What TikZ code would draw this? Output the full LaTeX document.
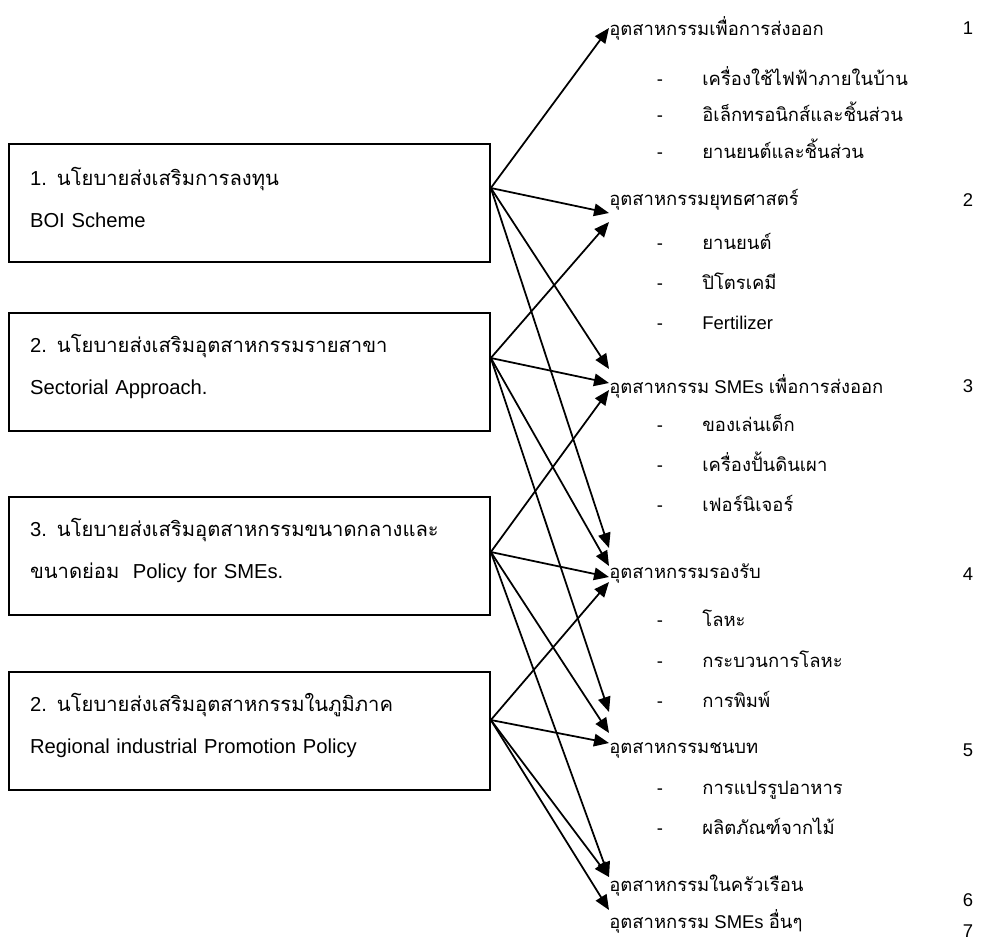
\documentclass[tikz,border=0pt]{standalone}
\usepackage{fontspec}
\setmainfont{Liberation Sans}
\newfontfamily\thaifont[Script=Thai]{Loma}
\newcommand{\thaitext}[1]{{\thaifont #1}}
\usetikzlibrary{arrows.meta,positioning}

\tikzset{
  policy/.style={draw, line width=1pt, minimum width=9.62cm, minimum height=2.36cm,
    text width=8.78cm, inner xsep=0.42cm, align=left,
    font=\fontsize{11.5}{23.8}\selectfont,
    execute at end node={\par\vspace*{6.5pt}}},
  sector/.style={anchor=west, inner sep=0pt, font=\fontsize{10.5}{12}\selectfont},
  item/.style={anchor=base west, inner sep=0pt, font=\fontsize{10.5}{12}\selectfont},
  dashmark/.style={anchor=base, inner sep=0pt, font=\fontsize{10.5}{12}\selectfont},
  rank/.style={inner sep=0pt, font=\fontsize{10.5}{12}\selectfont},
  link/.style={line width=1pt, -{Triangle[length=0.3cm,width=0.25cm]}}
}

\begin{document}
\begin{tikzpicture}[x=0.02cm, y=-0.02cm]
  \useasboundingbox (0,0) rectangle (1001,947);

    %% policy boxes
    \node[policy] (boi) at (249.5,203) {1. \thaitext{นโยบายส่งเสริมการลงทุน}\\BOI Scheme};
    \node[policy] (sector) at (249.5,372) {2. \thaitext{นโยบายส่งเสริมอุตสาหกรรมรายสาขา}\\Sectorial Approach.};
    \node[policy] (smes) at (249.5,556) {3. \thaitext{นโยบายส่งเสริมอุตสาหกรรมขนาดกลางและ}\\\thaitext{ขนาดย่อม}\ \ Policy for SMEs.};
    \node[policy] (region) at (249.5,731) {2. \thaitext{นโยบายส่งเสริมอุตสาหกรรมในภูมิภาค}\\Regional industrial Promotion Policy};

    \coordinate (boiout) at ([yshift=0.3cm]boi.east);
    \coordinate (sectorout) at ([yshift=0.28cm]sector.east);
    \coordinate (smesout) at ([yshift=0.08cm]smes.east);
    \coordinate (regionout) at ([yshift=0.22cm]region.east);

    % export industries
    \node[sector] (export) at (609,28) {\thaitext{อุตสาหกรรมเพื่อการส่งออก}};
    \node[dashmark] (d11) at (660,85) {-};
    \node[item] (i11) at (702,85) {\thaitext{เครื่องใช้ไฟฟ้าภายในบ้าน}};
    \node[dashmark] (d12) at (660,121) {-};
    \node[item] (i12) at (702,121) {\thaitext{อิเล็กทรอนิกส์และชิ้นส่วน}};
    \node[dashmark] (d13) at (660,158) {-};
    \node[item] (i13) at (702,158) {\thaitext{ยานยนต์และชิ้นส่วน}};
    \node[rank] (r1) at (968,28) {1};

    % strategic industries
    \node[sector] (strategic) at (609,200) {\thaitext{อุตสาหกรรมยุทธศาสตร์}};
    \node[dashmark] (d21) at (660,249) {-};
    \node[item] (i21) at (702,249) {\thaitext{ยานยนต์}};
    \node[dashmark] (d22) at (660,289) {-};
    \node[item] (i22) at (702,289) {\thaitext{ปิโตรเคมี}};
    \node[dashmark] (d23) at (660,329) {-};
    \node[item] (i23) at (702,329) {Fertilizer};
    \node[rank] (r2) at (968,200) {2};

    % SMEs for export
    \node[sector] (smeexport) at (609,386) {\thaitext{อุตสาหกรรม} SMEs \thaitext{เพื่อการส่งออก}};
    \node[dashmark] (d31) at (660,431) {-};
    \node[item] (i31) at (702,431) {\thaitext{ของเล่นเด็ก}};
    \node[dashmark] (d32) at (660,471) {-};
    \node[item] (i32) at (702,471) {\thaitext{เครื่องปั้นดินเผา}};
    \node[dashmark] (d33) at (660,511) {-};
    \node[item] (i33) at (702,511) {\thaitext{เฟอร์นิเจอร์}};
    \node[rank] (r3) at (968,386) {3};

    % supporting industries
    \node[sector] (support) at (609,574) {\thaitext{อุตสาหกรรมรองรับ}};
    \node[dashmark] (d41) at (660,626) {-};
    \node[item] (i41) at (702,626) {\thaitext{โลหะ}};
    \node[dashmark] (d42) at (660,667) {-};
    \node[item] (i42) at (702,667) {\thaitext{กระบวนการโลหะ}};
    \node[dashmark] (d43) at (660,707) {-};
    \node[item] (i43) at (702,707) {\thaitext{การพิมพ์}};
    \node[rank] (r4) at (968,574) {4};

    % rural industries
    \node[sector] (rural) at (609,750) {\thaitext{อุตสาหกรรมชนบท}};
    \node[dashmark] (d51) at (660,794) {-};
    \node[item] (i51) at (702,794) {\thaitext{การแปรรูปอาหาร}};
    \node[dashmark] (d52) at (660,834) {-};
    \node[item] (i52) at (702,834) {\thaitext{ผลิตภัณฑ์จากไม้}};
    \node[rank] (r5) at (968,750) {5};

    % household and other
    \node[sector] (household) at (609,886) {\thaitext{อุตสาหกรรมในครัวเรือน}};
    \node[rank] (r6) at (968,900) {6};
    \node[sector] (othersme) at (609,921) {\thaitext{อุตสาหกรรม} SMEs \thaitext{อื่นๆ}};
    \node[rank] (r7) at (968,931) {7};

    % links from BOI
    \draw[link] (boiout) -- (export.west);
    \draw[link] (boiout) -- ([yshift=-0.26cm]strategic.west);
    \draw[link] (boiout) -- ([yshift=0.34cm]smeexport.west);
    \draw[link] (boiout) -- ([yshift=0.52cm]support.west);

    % links from sectorial approach
    \draw[link] (sectorout) -- ([yshift=-0.44cm]strategic.west);
    \draw[link] (sectorout) -- ([yshift=0.06cm]smeexport.west);
    \draw[link] (sectorout) -- ([yshift=0.16cm]support.west);
    \draw[link] (sectorout) -- ([yshift=0.76cm]rural.west);

    % links from SMEs policy
    \draw[link] (smesout) -- ([yshift=-0.08cm]smeexport.west);
    \draw[link] (smesout) -- ([yshift=-0.06cm]support.west);
    \draw[link] (smesout) -- ([yshift=0.34cm]rural.west);
    \draw[link] (smesout) -- ([yshift=0.18cm]household.west);

    % links from regional policy
    \draw[link] (regionout) -- ([yshift=-0.16cm]support.west);
    \draw[link] (regionout) -- ([yshift=0.14cm]rural.west);
    \draw[link] (regionout) -- ([yshift=0.18cm]household.west);
    \draw[link] (regionout) -- ([yshift=0.22cm]othersme.west);
  \end{tikzpicture}
\end{document}
